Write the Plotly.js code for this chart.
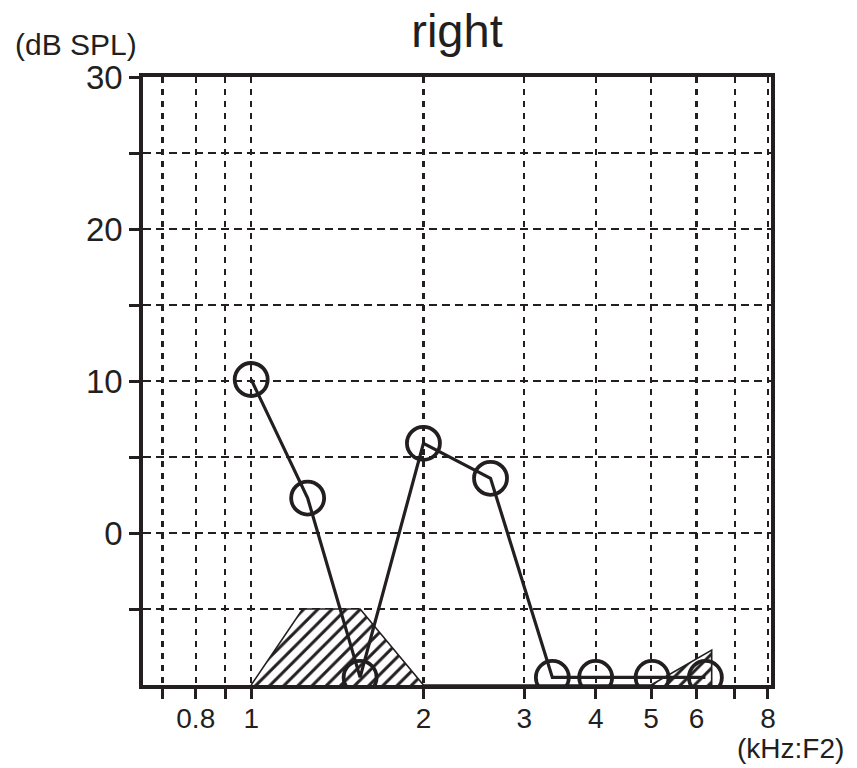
<!DOCTYPE html>
<html>
<head>
<meta charset="utf-8">
<script src="https://cdn.plot.ly/plotly-3.0.1.min.js"></script>
<style>html,body{margin:0;padding:0;background:#fff}#chart{width:857px;height:768px}</style>
</head>
<body>
<div id="chart"></div>
<script>
// F2 frequencies (kHz) and DPOAE levels (dB SPL)
var f2 = [1.0, 1.255, 1.55, 2.0, 2.62, 3.36, 4.0, 5.02, 6.22];
var dpLevel = [10.1, 2.3, -9.5, 5.9, 3.6, -9.5, -9.5, -9.5, -9.5];

// noise floor outline
var noiseF = [1.0, 1.23, 1.55, 2.0, 5.0, 6.38, 6.38];
var noiseLevel = [-10, -5, -5, -10, -10, -7.7, -10];

// axis ticks
var xTickVals = [0.7, 0.8, 0.9, 1, 2, 3, 4, 5, 6, 7, 8];
var xTickText = ['', '0.8', '', '1', '2', '3', '4', '5', '6', '', '8'];
var yTickVals = [-5, 0, 5, 10, 15, 20, 25, 30];
var yTickText = ['', '0', '', '10', '', '20', '', '30'];

var ink = '#231f20';
var fontFam = 'Liberation Sans, Arial, Helvetica, sans-serif';

var traces = [
  {
    x: noiseF, y: noiseLevel, type: 'scatter', mode: 'lines',
    fill: 'toself', fillcolor: 'white',
    fillpattern: {shape: '/', fgcolor: ink, bgcolor: 'white', size: 10, solidity: 0.3},
    line: {color: ink, width: 1.6},
    hoverinfo: 'skip', showlegend: false
  },
  {
    x: f2, y: dpLevel, type: 'scatter', mode: 'lines+markers',
    line: {color: ink, width: 3.2},
    marker: {symbol: 'circle-open', size: 33, color: ink, line: {color: ink, width: 3.8}},
    showlegend: false
  }
];

var layout = {
  width: 857, height: 768,
  margin: {l: 143, r: 86, t: 77, b: 83, pad: 0},
  paper_bgcolor: 'white', plot_bgcolor: 'white',
  font: {family: fontFam, color: ink},
  title: {text: 'right', font: {size: 47, family: fontFam, color: ink},
          x: 0.5, xref: 'paper', y: 1 - 31/768, yref: 'container', yanchor: 'middle'},
  xaxis: {
    type: 'log',
    range: [Math.log10(0.647), Math.log10(8.1)],
    tickmode: 'array', tickvals: xTickVals, ticktext: xTickText,
    ticks: 'outside', ticklen: 10, tickwidth: 3, tickcolor: ink,
    tickfont: {size: 28, family: fontFam, color: ink},
    ticklabelstandoff: -4,
    showline: true, linewidth: 3.8, linecolor: ink, mirror: true,
    showgrid: true, gridcolor: ink, gridwidth: 2.2, griddash: '6px,6px',
    zeroline: false, fixedrange: true
  },
  yaxis: {
    range: [-10, 30],
    tickmode: 'array', tickvals: yTickVals, ticktext: yTickText,
    ticks: 'outside', ticklen: 10, tickwidth: 3, tickcolor: ink,
    tickfont: {size: 33, family: fontFam, color: ink},
    showline: true, linewidth: 3.8, linecolor: ink, mirror: true,
    showgrid: true, gridcolor: ink, gridwidth: 2.2, griddash: '8px,5px',
    zeroline: false, fixedrange: true
  },
  annotations: [
    {text: '(dB SPL)', xref: 'paper', yref: 'paper', x: (76-143)/628.5, y: (685-44)/608,
     xanchor: 'center', yanchor: 'middle', showarrow: false,
     font: {size: 30, family: fontFam, color: ink}},
    {text: '(kHz:F2)', xref: 'paper', yref: 'paper', x: (791-143)/628.5, y: (685-748)/608,
     xanchor: 'center', yanchor: 'middle', showarrow: false,
     font: {size: 28, family: fontFam, color: ink}}
  ]
};

Plotly.newPlot('chart', traces, layout, {displayModeBar: false, staticPlot: true});
</script>
</body>
</html>
